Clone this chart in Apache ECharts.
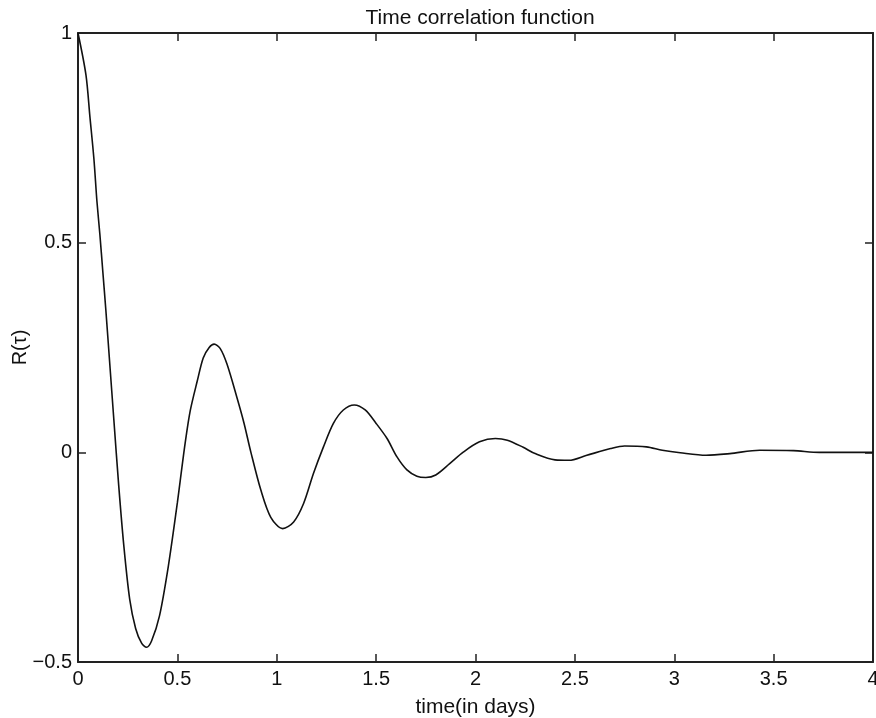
<!DOCTYPE html>
<html><head><meta charset="utf-8">
<script src="https://cdn.jsdelivr.net/npm/echarts@6/dist/echarts.min.js"></script>
<style>html,body{margin:0;padding:0;background:#fff}#c{width:876px;height:718px}</style>
</head><body><div id="c"></div>
<script>
const tau = [0,0.04,0.06,0.08,0.095,0.11,0.125,0.14,0.16,0.18,0.205,0.23,0.26,0.29,0.32,0.345,0.37,0.41,0.455,0.5,0.515,0.54,0.565,0.6,0.63,0.66,0.685,0.715,0.75,0.8,0.835,0.87,0.92,0.97,1.03,1.085,1.135,1.185,1.235,1.285,1.335,1.39,1.445,1.5,1.555,1.605,1.655,1.705,1.75,1.8,1.87,1.94,2.02,2.1,2.16,2.24,2.3,2.4,2.47,2.56,2.68,2.75,2.86,2.94,3.03,3.16,3.28,3.43,3.6,3.73,4.0];
const R = [1.0,0.90,0.80,0.70,0.60,0.52,0.43,0.34,0.21,0.08,-0.08,-0.22,-0.35,-0.42,-0.455,-0.465,-0.45,-0.39,-0.27,-0.12,-0.065,0.025,0.10,0.17,0.225,0.25,0.258,0.248,0.21,0.13,0.07,0.0,-0.09,-0.155,-0.182,-0.166,-0.122,-0.05,0.013,0.069,0.101,0.113,0.101,0.069,0.033,-0.011,-0.042,-0.057,-0.060,-0.054,-0.027,0.001,0.025,0.033,0.029,0.012,-0.003,-0.018,-0.019,-0.007,0.009,0.015,0.013,0.005,-0.001,-0.007,-0.003,0.005,0.004,0.0,0.0];
const xTicks = [0,0.5,1,1.5,2,2.5,3,3.5,4];
const yTicks = [-0.5,0,0.5,1];
const titleText = 'Time correlation function';
const xName = 'time(in days)';
const yName = 'R(\u03c4)';

const font = 'Liberation Sans, Arial, Helvetica, sans-serif';
const axisColor = '#222';
const data = tau.map((t,i)=>[t,R[i]]);
const fmt = v => String(v).replace('-', '\u2212');
const chart = echarts.init(document.getElementById('c'));
const tickStyle = {show:true, inside:true, length:8, lineStyle:{color:axisColor,width:1.5}};
chart.setOption({
  animation:false,
  title:{text:titleText,left:475,textAlign:'center',top:3,textStyle:{fontFamily:font,fontSize:21,fontWeight:'normal',color:'#111'}},
  grid:{left:78,right:3,top:33,bottom:56,containLabel:false,outerBoundsMode:'none'},
  xAxis:[{
    type:'value',min:0,max:4,interval:0.5,position:'bottom',
    name:xName,nameLocation:'middle',nameGap:35,
    nameTextStyle:{fontFamily:font,fontSize:21,color:'#111'},
    axisLine:{show:true,onZero:false,lineStyle:{color:axisColor,width:2}},
    axisTick:tickStyle,splitLine:{show:false},
    axisLabel:{fontFamily:font,fontSize:20,color:'#111',margin:7,formatter:fmt}
  },{
    type:'value',min:0,max:4,interval:0.5,position:'top',
    axisLine:{show:true,onZero:false,lineStyle:{color:axisColor,width:2}},
    axisTick:tickStyle,axisLabel:{show:false},splitLine:{show:false}
  }],
  yAxis:[{
    type:'value',min:-0.5,max:1,interval:0.5,position:'left',
    name:yName,nameLocation:'middle',nameGap:48,nameRotate:90,nameMoveOverlap:false,
    nameTextStyle:{fontFamily:font,fontSize:20,color:'#111'},
    axisLine:{show:true,onZero:false,lineStyle:{color:axisColor,width:2}},
    axisTick:tickStyle,splitLine:{show:false},
    axisLabel:{fontFamily:font,fontSize:20,color:'#111',margin:6,formatter:fmt}
  },{
    type:'value',min:-0.5,max:1,interval:0.5,position:'right',
    axisLine:{show:true,onZero:false,lineStyle:{color:axisColor,width:2}},
    axisTick:tickStyle,axisLabel:{show:false},splitLine:{show:false}
  }],
  series:[{
    type:'line',data:data,xAxisIndex:0,yAxisIndex:0,
    showSymbol:false,smooth:0.3,
    lineStyle:{color:'#111',width:1.6}
  }]
});
</script></body></html>
